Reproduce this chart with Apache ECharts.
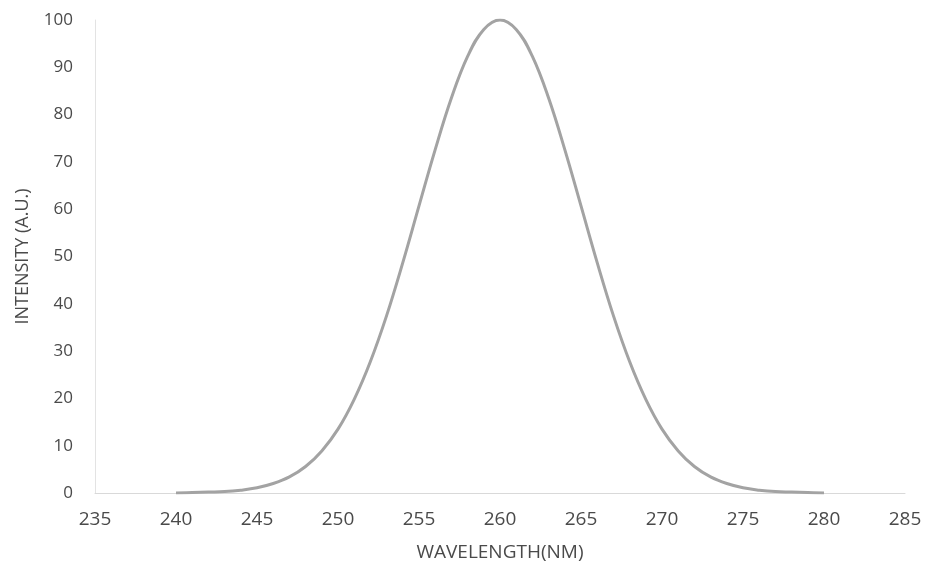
<!DOCTYPE html>
<html>
<head>
<meta charset="utf-8">
<script src="https://cdn.jsdelivr.net/npm/echarts@6/dist/echarts.min.js"></script>
<style>html,body{margin:0;padding:0;background:#fff}#c{width:929px;height:567px}</style>
</head>
<body>
<div id="c"></div>
<script>
// Wavelength (nm) sample points
var wavelengths = [240,241,242,243,244,245,246,247,248,249,250,251,252,253,254,255,256,257,258,259,260,
                   261,262,263,264,265,266,267,268,269,270,271,272,273,274,275,276,277,278,279,280];
// Intensity (a.u.)
var intensity = [0.0,0.1,0.2,0.3,0.6,1.1,2.0,3.4,5.6,8.9,13.5,19.8,27.8,37.5,48.7,60.7,72.6,83.5,92.3,98.0,100,
                 98.0,92.3,83.5,72.6,60.7,48.7,37.5,27.8,19.8,13.5,8.9,5.6,3.4,2.0,1.1,0.6,0.3,0.2,0.1,0.0];
var xTicks = {min: 235, max: 285, interval: 5};
var yTicks = {min: 0, max: 100, interval: 10};
var xTitle = 'WAVELENGTH(NM)';
var yTitle = 'INTENSITY (A.U.)';

var pts = wavelengths.map(function (w, i) { return [w, intensity[i]]; });
var font2 = '"Open Sans", Lato, sans-serif';
var chart = echarts.init(document.getElementById('c'), null, {renderer: 'canvas'});
chart.setOption({
  animation: false,
  backgroundColor: '#ffffff',
  grid: {left: 95, right: 24, top: 20, bottom: 74, containLabel: false},
  xAxis: {
    type: 'value', min: xTicks.min, max: xTicks.max, interval: xTicks.interval,
    name: xTitle, nameLocation: 'middle', nameGap: 50,
    nameTextStyle: {fontFamily: font2, fontSize: 19, color: '#4a4a4a'},
    axisLine: {show: true, lineStyle: {color: '#d9d9d9', width: 1}},
    axisTick: {show: false},
    splitLine: {show: false},
    axisLabel: {fontFamily: font2, fontSize: 19, color: '#4a4a4a', margin: 17}
  },
  yAxis: {
    type: 'value', min: yTicks.min, max: yTicks.max, interval: yTicks.interval,
    name: yTitle, nameLocation: 'middle', nameGap: 63,
    nameTextStyle: {fontFamily: font2, fontSize: 18, color: '#4a4a4a'},
    axisLine: {show: true, lineStyle: {color: '#e3e3e3', width: 1}},
    axisTick: {show: false},
    splitLine: {show: false},
    axisLabel: {fontFamily: font2, fontSize: 17, color: '#4a4a4a', margin: 22}
  },
  series: [{
    type: 'line', data: pts, smooth: 0.4, showSymbol: false,
    lineStyle: {color: '#a3a3a3', width: 3}
  }]
});
</script>
</body>
</html>
